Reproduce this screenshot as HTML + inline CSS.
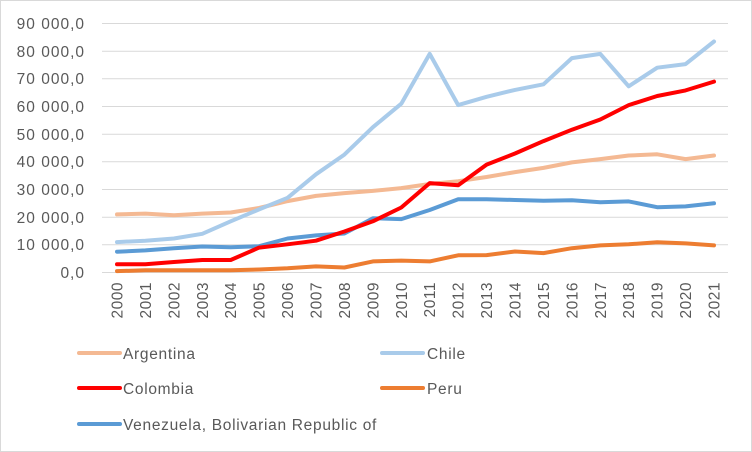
<!DOCTYPE html>
<html><head><meta charset="utf-8"><style>
body{margin:0;background:#fff}
svg{display:block;font-family:"Liberation Sans",sans-serif;fill:#595959}
</style></head><body>
<svg id="s" width="752" height="452" xmlns="http://www.w3.org/2000/svg">
<rect x="0.5" y="0.5" width="751" height="451" fill="#fff" stroke="#d9d9d9"/>
<g stroke="#d9d9d9" stroke-width="1">
<line x1="102" x2="728" y1="23.5" y2="23.5"/><line x1="102" x2="728" y1="51.2" y2="51.2"/><line x1="102" x2="728" y1="78.8" y2="78.8"/><line x1="102" x2="728" y1="106.5" y2="106.5"/><line x1="102" x2="728" y1="134.2" y2="134.2"/><line x1="102" x2="728" y1="161.8" y2="161.8"/><line x1="102" x2="728" y1="189.5" y2="189.5"/><line x1="102" x2="728" y1="217.2" y2="217.2"/><line x1="102" x2="728" y1="244.8" y2="244.8"/><line x1="102" x2="728" y1="272.5" y2="272.5"/>
</g>
<g font-size="15.5" text-anchor="end" letter-spacing="1">
<text x="85" y="29">90 000,0</text><text x="85" y="57">80 000,0</text><text x="85" y="84">70 000,0</text><text x="85" y="112">60 000,0</text><text x="85" y="140">50 000,0</text><text x="85" y="167">40 000,0</text><text x="85" y="195">30 000,0</text><text x="85" y="223">20 000,0</text><text x="85" y="250">10 000,0</text><text x="85" y="278">0,0</text>
</g>
<g id="ticks" font-size="15.5" text-anchor="end" letter-spacing="0.5">
<text transform="translate(122.5,282) rotate(-90)">2000</text>
<text transform="translate(150.9,282) rotate(-90)">2001</text>
<text transform="translate(179.4,282) rotate(-90)">2002</text>
<text transform="translate(207.8,282) rotate(-90)">2003</text>
<text transform="translate(236.2,282) rotate(-90)">2004</text>
<text transform="translate(264.6,282) rotate(-90)">2005</text>
<text transform="translate(293.1,282) rotate(-90)">2006</text>
<text transform="translate(321.5,282) rotate(-90)">2007</text>
<text transform="translate(349.9,282) rotate(-90)">2008</text>
<text transform="translate(378.4,282) rotate(-90)">2009</text>
<text transform="translate(406.8,282) rotate(-90)">2010</text>
<text transform="translate(435.2,282) rotate(-90)">2011</text>
<text transform="translate(463.6,282) rotate(-90)">2012</text>
<text transform="translate(492.1,282) rotate(-90)">2013</text>
<text transform="translate(520.5,282) rotate(-90)">2014</text>
<text transform="translate(548.9,282) rotate(-90)">2015</text>
<text transform="translate(577.4,282) rotate(-90)">2016</text>
<text transform="translate(605.8,282) rotate(-90)">2017</text>
<text transform="translate(634.2,282) rotate(-90)">2018</text>
<text transform="translate(662.6,282) rotate(-90)">2019</text>
<text transform="translate(691.1,282) rotate(-90)">2020</text>
<text transform="translate(719.5,282) rotate(-90)">2021</text>
</g>
<g id="lines" fill="none" stroke-width="4" stroke-linejoin="round" stroke-linecap="round"></g>
<g stroke-width="4" stroke-linecap="round">
<line x1="79" x2="120" y1="353" y2="353" stroke="#f4b993"/>
<line x1="382" x2="423" y1="353" y2="353" stroke="#a9cbea"/>
<line x1="79" x2="120" y1="388" y2="388" stroke="#ff0000"/>
<line x1="382" x2="423" y1="388" y2="388" stroke="#ed7d31"/>
<line x1="79" x2="120" y1="424" y2="424" stroke="#5b9bd5"/>
</g>
<g font-size="15.5" letter-spacing="0.7">
<text x="123" y="359">Argentina</text><text x="427" y="359">Chile</text>
<text x="123" y="394">Colombia</text><text x="427" y="394">Peru</text>
<text x="123" y="430">Venezuela, Bolivarian Republic of</text>
</g>
</svg>
<script>
var S=[
["#f4b993",[21000,21300,20700,21300,21700,23300,25800,27700,28700,29500,30500,32000,33000,34500,36300,37800,39800,41000,42300,42700,41000,42300]],
["#a9cbea",[11000,11500,12300,14000,18500,22800,27000,35500,42600,52500,61000,79000,60500,63500,66000,68000,77500,79000,67300,74000,75300,83500]],
["#ed7d31",[500,800,800,800,800,1100,1500,2200,1800,4000,4300,4000,6200,6300,7600,7000,8800,9800,10200,10900,10500,9800]],
["#5b9bd5",[7500,8000,8800,9400,9100,9500,12300,13400,14100,19600,19300,22600,26500,26500,26200,25900,26100,25400,25700,23600,23900,25000]],
["#ff0000",[3000,3000,3800,4500,4500,9000,10200,11500,14800,18500,23500,32300,31500,39000,43000,47500,51600,55300,60500,63800,65800,69000]]];
var g=document.getElementById('lines');
S.forEach(function(s){var p=s[1].map(function(v,i){return (117+i*28.43).toFixed(1)+','+(272.5-v*0.002767).toFixed(1)}).join(' ');
var e=document.createElementNS('http://www.w3.org/2000/svg','polyline');e.setAttribute('points',p);e.setAttribute('stroke',s[0]);g.appendChild(e);});
</script>
</body></html>
